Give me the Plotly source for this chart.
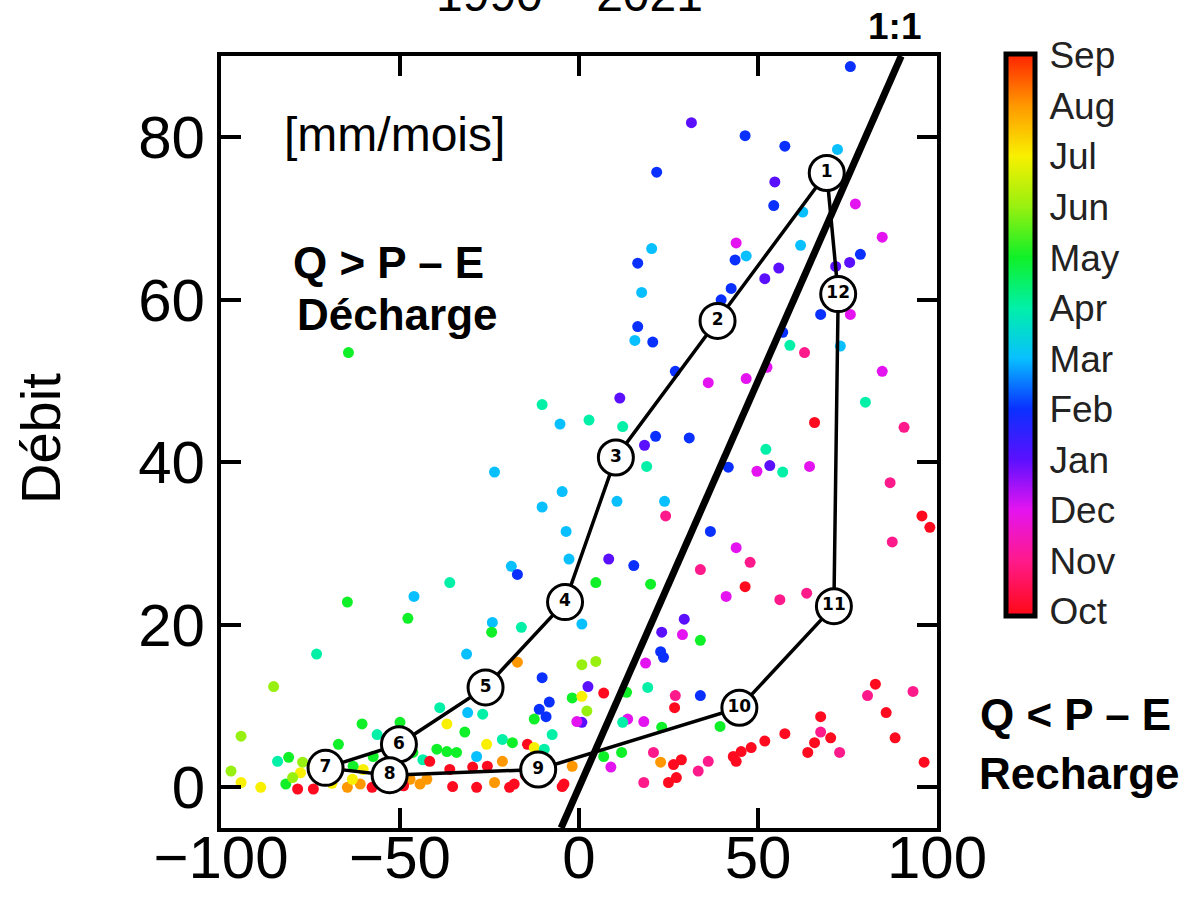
import plotly.graph_objects as go

# ---------------- data ----------------
month_names = ["Oct", "Nov", "Dec", "Jan", "Feb", "Mar", "Apr", "May", "Jun", "Jul", "Aug", "Sep"]
month_colors = ["#ff0a1e", "#ff1a8c", "#e414f0", "#5a10ff", "#0a30ff", "#08c0ff",
                "#00f0a8", "#10f028", "#98f010", "#f8f000", "#ff9800", "#ff2400"]

# P - E (x), debit Q (y), month index (0 = Oct ... 11 = Sep)
pe = [75.8, 31.4, 46.4, 57.5, 72.2, 21.7, 54.7, 54.4, 77.2, 62.5, 84.7, 20.3, 43.9, 46.7, 61.9, 43.6, 16.4, 55.8,
      51.9, 78.6, 75.6, 71.7, 17.5, 42.5, 39.7, 67.5, 75.8, 16.4, 15.6, 20.6, 56.9, 58.9, 63.0, 73.0, 84.7, 26.9,
      36.1, 46.7, 52.5, 80.0, 11.4, -10.3, 2.8, -5.3, 12.2, 65.8, 90.8,
      18.3, 21.4, 30.8, 18.9, 41.7, 49.7, 53.3, 52.2, 56.9, 64.4, 86.9, 95.8, 98.0, 87.5, -4.7, -10.3, 10.6, 23.9,
      24.2, -3.6, 36.7, -2.8, 8.3, 15.3, 33.9, 43.9, 47.8, 46.4, 41.1, 56.1, 63.6, 4.7, 20.0, 0.8, 29.4, 23.1, 28.9,
      33.9, 22.8, 23.6, 18.6, 0.8, 4.7, -10.3, 2.5, 6.9, 13.3, 19.2, 26.9, 33.9, -1.9, 0.8, 2.2, -8.3, -9.2, 0.8,
      26.7, 13.6, 18.1, 12.2, -7.5, 39.4, 23.1, 82.8, 80.6, 93.3, 85.8, 67.5, 67.5, 88.3, 57.5, 51.9, 70.3, 65.8,
      72.8, 63.9, 48.1, 45.3, 43.1, 43.9, 96.4, 36.1, 33.3, 28.6, 26.4, 27.2, 25.0, 22.8, 20.8, 18.1, 8.9, 11.9,
      6.9, -1.9, -4.2,
      -23.6, -18.9, -17.2, -36.1, -64.7, -46.1, -47.8, -24.2, -24.4, -16.1, -73.3, -31.4, -17.2, -85.3, -11.1,
      -12.5, -0.6, -31.9, -38.9, -31.1, -26.9, -60.6, -56.4, -50.0, -94.4, -36.9, -25.8, -21.4, -18.6, -14.4,
      -12.5, -9.7, -21.4, -28.6, -36.9, -34.2, -39.7, -43.6, -41.7, -67.2, -81.1, -84.2, -77.2, -97.2, -94.4,
      -88.9, -81.9, -78.6, -74.2, -64.7, -61.1, -57.8, -44.4, -42.5, -35.3, -28.6, -36.1, -29.7, -25.6, -23.6,
      -19.4, -18.1, -4.7, -47.2, -50.0, -60.3, -63.3, -63.1, -77.8, -80.0, -57.5, -46.4, -64.4,
      -54.0, -52.0, -49.0, -15.0, -13.0, -8.0, -69.0, -72.0]
debit = [88.7, 81.8, 80.2, 78.9, 78.5, 75.7, 74.5, 71.6, 71.8, 70.8, 67.7, 66.3, 67.0, 65.4, 66.7, 64.9, 64.5, 63.9,
         62.6, 65.6, 64.6, 64.1, 60.9, 61.4, 60.0, 58.2, 58.2, 56.7, 55.0, 54.8, 56.0, 54.4, 53.5, 54.3, 51.2, 51.2,
         49.8, 50.3, 51.7, 47.4, 47.9, 47.1, 45.2, 44.7, 44.4, 44.9, 44.3,
         42.1, 43.2, 43.0, 39.5, 39.4, 38.9, 39.6, 41.6, 38.8, 39.5, 37.5, 33.4, 32.0, 30.2, 36.4, 34.5, 35.2, 35.2,
         33.4, 31.5, 31.5, 28.1, 28.1, 27.3, 26.8, 29.5, 27.7, 24.7, 23.5, 23.1, 23.9, 25.2, 25.0, 20.1, 20.7, 19.1,
         18.8, 18.1, 16.7, 16.0, 15.3, 15.1, 15.5, 13.5, 12.4, 11.6, 11.7, 12.3, 11.3, 11.3, 11.0, 11.2, 9.4, 10.5,
         8.7, 8.0, 9.8, 8.4, 8.1, 8.0, 6.5, 7.5, 7.4, 12.7, 11.3, 11.8, 9.2, 8.7, 6.8, 6.1, 6.6, 5.7, 6.1, 5.5, 4.3,
         4.3, 4.9, 4.4, 3.8, 3.2, 3.1, 3.2, 2.0, 3.4, 2.8, 1.2, 0.6, 3.1, 4.3, 0.6, 2.5, 4.3, 3.8, 2.6, 0.4,
         38.8, 27.2, 26.2, 25.2, 22.8, 23.5, 20.8, 20.3, 19.1, 19.7, 16.4, 16.4, 15.4, 12.4, 9.6, 8.4, 8.1, 6.8,
         9.8, 9.2, 9.0, 7.8, 6.5, 8.0, 6.3, 7.8, 5.3, 5.9, 5.5, 5.3, 4.9, 4.7, 3.2, 3.8, 4.4, 4.3, 4.7, 3.4, 3.2,
         5.3, 3.7, 3.2, 3.1, 2.0, 0.6, 0.0, 0.4, -0.2, -0.2, 0.0, 0.4, 0.0, 0.4, 1.0, 0.1, 0.0, 2.2, 2.5, 2.6, 0.6,
         0.0, 0.4, 0.1, 1.0, 1.2, 2.2, 1.0, 2.6, 1.8, 1.2, 3.8, 4.3, 53.5,
         0.3, 0.8, 0.2, 1.5, 0.9, 1.8, 0.5, 1.0]
month_idx = [4, 3, 4, 4, 5, 4, 3, 4, 2, 5, 2, 5, 2, 5, 5, 4, 4, 3,
             3, 4, 3, 3, 5, 4, 4, 4, 2, 4, 5, 4, 4, 6, 1, 5, 2, 4,
             2, 2, 2, 6, 3, 6, 6, 5, 6, 0, 1,
             3, 4, 4, 6, 4, 2, 3, 6, 6, 2, 1, 0, 0, 1, 5, 5, 5, 5,
             1, 5, 4, 5, 3, 4, 1, 2, 1, 0, 2, 1, 1, 7, 7, 5, 3, 3, 2,
             7, 4, 4, 2, 8, 8, 4, 3, 0, 7, 6, 1, 4, 7, 9, 8, 4, 4, 3,
             0, 2, 2, 6, 6, 7, 7, 0, 1, 1, 0, 0, 1, 0, 0, 0, 0, 0,
             1, 0, 0, 0, 0, 0, 0, 1, 1, 0, 0, 0, 0, 10, 1, 1, 2, 7,
             7, 10, 0,
             5, 5, 4, 6, 7, 5, 7, 5, 7, 6, 6, 5, 10, 8, 4,
             7, 2, 7, 6, 5, 6, 7, 6, 7, 8, 9, 9, 6, 7, 0,
             9, 6, 10, 5, 7, 7, 7, 6, 0, 7, 7, 6, 8, 8, 9,
             9, 7, 0, 0, 10, 10, 0, 10, 10, 0, 0, 0, 0, 0, 10,
             0, 0, 0, 10, 9, 9, 9, 7, 9, 8, 7, 7, 7,
             0, 10, 0, 0, 10, 0, 9, 0]

# monthly means (loop), 1 = Jan ... 12 = Dec
loop_labels = ["1", "2", "3", "4", "5", "6", "7", "8", "9", "10", "11", "12"]
loop_pe = [69.2, 38.7, 10.3, -3.9, -26.1, -50.3, -70.8, -52.9, -11.4, 44.8, 71.2, 72.4]
loop_q = [75.6, 57.4, 40.6, 22.8, 12.3, 5.3, 2.4, 1.5, 2.2, 9.8, 22.3, 60.7]

one_to_one = [-5, 90]

x_ticks = [-100, -50, 0, 50, 100]
y_ticks = [0, 20, 40, 60, 80]

# ---------------- styling ----------------
CMIN, CMAX = -0.1, 11.02
scale = [[0.0, month_colors[0]]]
for i, c in enumerate(month_colors):
    p = (i - CMIN) / (CMAX - CMIN)
    if 0 < p < 1:
        scale.append([p, c])
scale.append([1.0, month_colors[-1]])

FONT = "Liberation Sans, Arial, sans-serif"

fig = go.Figure()

fig.add_trace(go.Scatter(
    x=pe, y=debit, mode="markers",
    marker=dict(size=11, color=month_idx, colorscale=scale, cmin=CMIN, cmax=CMAX,
                line=dict(width=0),
                showscale=True,
                colorbar=dict(
                    x=1.0957, xanchor="left", xpad=0,
                    y=1.002, yanchor="top", ypad=0,
                    len=562, lenmode="pixels", thickness=29,
                    outlinewidth=5, outlinecolor="black",
                    tickmode="array", tickvals=list(range(12)), ticktext=month_names,
                    ticks="outside", ticklen=5, tickcolor="rgba(0,0,0,0)",
                    tickfont=dict(family=FONT, size=37, color="#222"),
                )),
    showlegend=False, hoverinfo="skip"))

fig.add_trace(go.Scatter(
    x=one_to_one, y=one_to_one, mode="lines",
    line=dict(color="black", width=7), showlegend=False, hoverinfo="skip"))

fig.add_trace(go.Scatter(
    x=loop_pe + loop_pe[:1], y=loop_q + loop_q[:1], mode="lines",
    line=dict(color="black", width=3.5), showlegend=False, hoverinfo="skip"))

fig.add_trace(go.Scatter(
    x=loop_pe, y=loop_q, mode="markers+text", text=loop_labels,
    textposition="middle center",
    textfont=dict(family="DejaVu Sans, sans-serif", size=17, color="black", weight="bold"),
    marker=dict(size=35, color="white", line=dict(color="black", width=3)),
    showlegend=False, hoverinfo="skip"))

axis_common = dict(showgrid=False, zeroline=False, showline=True, linewidth=4, linecolor="black",
                   mirror="ticks", ticks="inside", ticklen=20, tickwidth=4, tickcolor="black",
                   automargin=False,
                   tickfont=dict(family=FONT, size=60, color="black"))

bold_font = dict(family=FONT, size=44, color="black")

fig.update_layout(
    width=1188, height=903,
    margin=dict(l=221, r=251, t=56, b=75, autoexpand=False),
    paper_bgcolor="white", plot_bgcolor="white",
    xaxis=dict(range=[-100, 100], tickmode="array", tickvals=x_ticks, ticklabelstandoff=-26,
               **axis_common),
    yaxis=dict(range=[-5, 90], tickmode="array", tickvals=y_ticks, **axis_common),
    annotations=[
        dict(text="1990 – 2021", xref="paper", yref="paper", x=0.487, y=1.043,
             xanchor="center", yanchor="bottom", showarrow=False,
             font=dict(family=FONT, size=48, color="black")),
        dict(text="<b>1:1</b>", xref="paper", yref="paper", x=0.94, y=1.0376,
             xanchor="center", yanchor="middle", showarrow=False,
             font=dict(family=FONT, size=37, color="black")),
        dict(text="[mm/mois]", xref="x", yref="y", x=-51.4, y=80.4,
             xanchor="center", yanchor="middle", showarrow=False,
             font=dict(family=FONT, size=48, color="black")),
        dict(text="<b>Q > P – E</b>", xref="x", yref="y", x=-53.1, y=64.6,
             xanchor="center", yanchor="middle", showarrow=False, font=bold_font),
        dict(text="<b>Décharge</b>", xref="x", yref="y", x=-50.7, y=58.2,
             xanchor="center", yanchor="middle", showarrow=False, font=bold_font),
        dict(text="<b>Q < P – E</b>", xref="paper", yref="paper", x=1.193, y=0.1464,
             xanchor="center", yanchor="middle", showarrow=False, font=bold_font),
        dict(text="<b>Recharge</b>", xref="paper", yref="paper", x=1.1997, y=0.0712,
             xanchor="center", yanchor="middle", showarrow=False, font=bold_font),
        dict(text="Débit", xref="paper", yref="paper", x=-0.253, y=0.505, textangle=-90,
             xanchor="center", yanchor="middle", showarrow=False,
             font=dict(family=FONT, size=56, color="black")),
    ],
)

fig.write_html("out.html", config={"displayModeBar": False},
               post_script="document.body.style.margin='0px';")
